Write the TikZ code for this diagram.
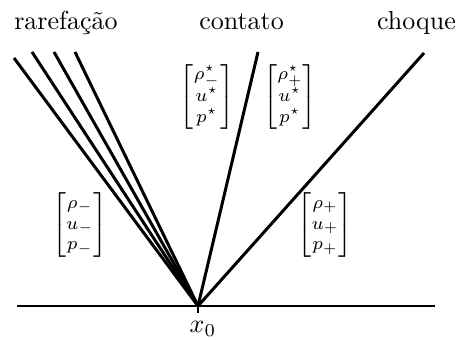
\documentclass[tikz,border=0pt]{standalone}
\usepackage{amsmath}
\begin{document}
\begin{tikzpicture}[x=0.3846pt, y=-0.3846pt,
  wave/.style={line width=1.15pt},
  axisline/.style={line width=1.15pt},
  ticklab/.style={inner sep=0pt, anchor=base},
  state/.style={inner sep=0pt, font=\scriptsize},
  head/.style={inner sep=0pt, anchor=base}]
\useasboundingbox (0,0) rectangle (457,340);
% coordinates
\coordinate (O) at (198,306);
\coordinate (L) at (17,306);
\coordinate (R) at (435,306);
\coordinate (T) at (198,313);
\coordinate (r1) at (14,58);
\coordinate (r2) at (32,52);
\coordinate (r3) at (54,52);
\coordinate (r4) at (75,52);
\coordinate (c) at (258,52);
\coordinate (s) at (424,53);
% axis
\draw[axisline] (L) -- (R);
\draw[line width=0.4pt] (O) -- (T);
\node[ticklab] (x0) at (203,333) {$x_0$};
% waves
\draw[wave] (O) -- (r1);
\draw[wave] (O) -- (r2);
\draw[wave] (O) -- (r3);
\draw[wave] (O) -- (r4);
\draw[wave] (O) -- (c);
\draw[wave] (O) -- (s);
% headings
\node[head] (hr) at (66,30) {rarefação};
\node[head] (hc) at (241.5,30) {contato};
\node[head] (hs) at (416.5,30) {choque};
% states
\node[state] (sm) at (80,225) {$\begin{bmatrix}\rho_-\\ u_-\\ p_-\end{bmatrix}$};
\node[state] (sp) at (325,225) {$\begin{bmatrix}\rho_+\\ u_+\\ p_+\end{bmatrix}$};
\node[state] (ssm) at (207,97) {$\begin{bmatrix}\rho^\star_-\\ u^\star\\ p^\star\end{bmatrix}$};
\node[state] (ssp) at (290,97) {$\begin{bmatrix}\rho^\star_+\\ u^\star\\ p^\star\end{bmatrix}$};
\end{tikzpicture}
\end{document}
